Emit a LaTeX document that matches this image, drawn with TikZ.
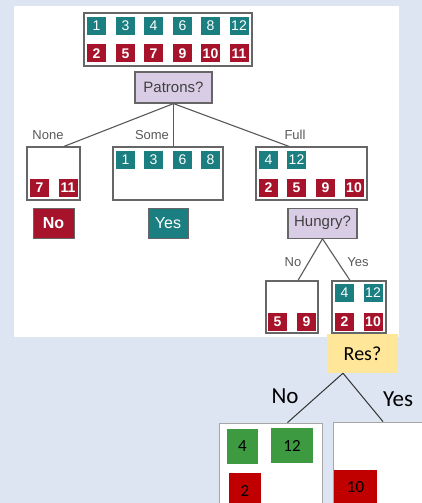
\documentclass[tikz,border=0pt]{standalone}
\usepackage{fontspec}
\setmainfont{Liberation Sans}
\newfontfamily\carlito{Carlito}
\usetikzlibrary{positioning}

\definecolor{bgblue}{HTML}{DCE5F1}
\definecolor{sqteal}{HTML}{1B7E80}
\definecolor{sqred}{HTML}{A6132B}
\definecolor{qlav}{HTML}{D9CDE5}
\definecolor{resyel}{HTML}{FFE699}
\definecolor{boxgreen}{HTML}{3E9A41}
\definecolor{boxred}{HTML}{C00000}

\tikzset{
  setbox/.style={draw=black!60, line width=1.2pt, fill=white, inner sep=0},
  quest/.style={draw=black!60, line width=1.2pt, fill=qlav, inner sep=0, text=black!75,
    font=\fontsize{15}{15}\selectfont},
  tsq/.style={fill=sqteal, text=white, minimum width=19, minimum height=18, inner sep=0,
    font=\fontsize{14}{14}\selectfont},
  rsq/.style={tsq, fill=sqred, font=\fontsize{14}{14}\selectfont\bfseries},
  lbl/.style={text=black!65, inner sep=0, font=\fontsize{13}{13}\selectfont},
  edge/.style={draw=black!65, line width=1.1pt},
  gsq/.style={fill=boxgreen, inner sep=0, font=\carlito\fontsize{17}{17}\selectfont},
  bsq/.style={gsq, fill=boxred},
  bigbox/.style={draw=black!35, line width=0.8pt, fill=white, inner sep=0},
  biglbl/.style={inner sep=0, font=\carlito\fontsize{23}{23}\selectfont},
}

\begin{document}
\begin{tikzpicture}[x=1pt, y=-1pt]
  \useasboundingbox (0,0) rectangle (422,503);
  \fill[bgblue] (0,0) rectangle (422,503);
  \clip (0,0) rectangle (422,503);
  \fill[white] (14,6) rectangle (399,337);

  % root set and first test
  \node[setbox, minimum width=168, minimum height=53] (root) at (168,39.5) {};
  \foreach \n/\x in {1/96.5, 3/125.5, 4/153.5, 6/182.5, 8/210.5, 12/239}
    \node[tsq] (r\n) at (\x,26) {\n};
  \foreach \n/\x in {2/96.5, 5/125.5, 7/153.5, 9/182.5, 10/210.5, 11/239}
    \node[rsq] (r\n) at (\x,53.5) {\n};
  \node[quest, minimum width=77, minimum height=31] (patrons) at (173.5,87.5) {Patrons?};

  % Patrons branches
  \node[setbox, minimum width=53, minimum height=53] (none) at (53.5,173.5) {};
  \node[setbox, minimum width=110, minimum height=53] (some) at (168,173.5) {};
  \node[setbox, minimum width=111, minimum height=53] (full) at (311.5,173.5) {};
  \foreach \n/\x in {7/39.5, 11/68}
    \node[rsq] (n\n) at (\x,188) {\n};
  \foreach \n/\x in {1/125.5, 3/153.5, 6/182.5, 8/210.5}
    \node[tsq] (s\n) at (\x,160) {\n};
  \foreach \n/\x in {4/268.5, 12/296.5}
    \node[tsq] (f\n) at (\x,160) {\n};
  \foreach \n/\x in {2/268.5, 5/296.5, 9/325.5, 10/354}
    \node[rsq] (f\n) at (\x,188) {\n};

  \draw[edge] (patrons.south) -- ([xshift=10.5]none.north);
  \draw[edge] (patrons.south) -- ([xshift=5.5]some.north);
  \draw[edge] (patrons.south) -- ([xshift=-22.5]full.north);
  \node[lbl] (lnone) at (48,135) {None};
  \node[lbl] (lsome) at (152,135) {Some};
  \node[lbl] (lfull) at (295,135) {Full};

  % leaves and second test
  \node[rsq, minimum width=41, minimum height=30, font=\fontsize{16}{16}\selectfont\bfseries,
    draw=black!60, line width=0.8pt, below=7pt of none] (leafno) {No};
  \node[tsq, minimum width=40, minimum height=30, font=\fontsize{16}{16}\selectfont,
    draw=black!60, line width=0.8pt, below=7pt of some] (leafyes) {Yes};
  \node[quest, minimum width=69, minimum height=30, below=7pt of full, xshift=11] (hungry) {Hungry?};

  \node[setbox, minimum width=52, minimum height=52] (hno) at (292,307) {};
  \node[setbox, minimum width=54, minimum height=52] (hyes) at (359,307) {};
  \foreach \n/\x in {5/277.5, 9/306.5}
    \node[rsq] (hn\n) at (\x,321.5) {\n};
  \foreach \n/\x in {4/344.5, 12/373}
    \node[tsq] (hy\n) at (\x,292.5) {\n};
  \foreach \n/\x in {2/344.5, 10/373}
    \node[rsq] (hy\n) at (\x,321.5) {\n};

  \draw[edge] (hungry.south) -- ([xshift=6]hno.north);
  \draw[edge] (hungry.south) -- ([xshift=-9]hyes.north);
  \node[lbl] (lhno) at (293,262) {No};
  \node[lbl] (lhyes) at (358,262) {Yes};

  % third test
  \node[fill=resyel, minimum width=71, minimum height=39, inner sep=0,
    font=\carlito\fontsize{20}{20}\selectfont] (res) at (362.5,353.5) {Res?};
  \node[bigbox, minimum width=103, minimum height=117] (resno) at (270.5,481.5) {};
  \node[bigbox, minimum width=117, minimum height=117] (resyes) at (391.5,480.5) {};
  \node[gsq, minimum width=31, minimum height=35] (g4) at (242.5,446.5) {4};
  \node[gsq, minimum width=42, minimum height=35] (g12) at (292,445.5) {12};
  \node[bsq, minimum width=32, minimum height=35] (b2) at (245,490.5) {2};
  \node[bsq, minimum width=43, minimum height=35] (b10) at (355.5,487.5) {10};

  \draw[black!80, line width=1pt] ([xshift=-19.5]res.south) -- ([xshift=17]resno.north);
  \draw[black!80, line width=1pt] ([xshift=-19.5]res.south) -- ([xshift=-8.5]resyes.north);
  \node[biglbl] (lrno) at (285,396) {No};
  \node[biglbl] (lryes) at (398,399) {Yes};
\end{tikzpicture}
\end{document}
